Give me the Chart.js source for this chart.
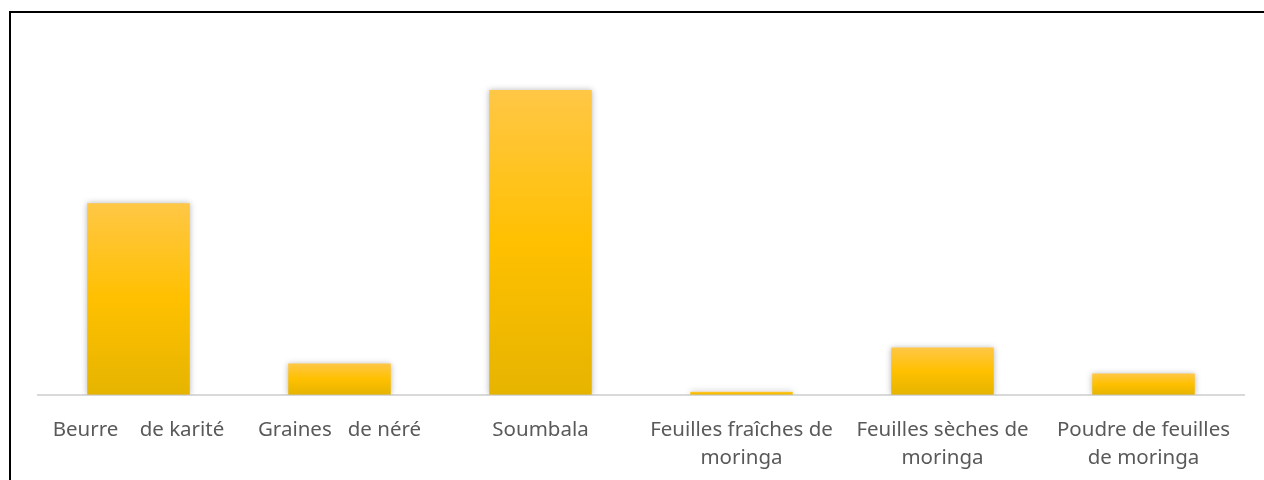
<!DOCTYPE html>
<html>
<head>
<meta charset="utf-8">
<script src="https://cdn.jsdelivr.net/npm/chart.js@4"></script>
<style>
  html, body { margin: 0; padding: 0; background: #fff; }
  #wrap { position: relative; width: 1264px; height: 480px; overflow: hidden; }
  #frame { position: absolute; left: 9px; top: 11px; width: 1300px; height: 520px; border-left: 2px solid #000; border-top: 2px solid #000; box-sizing: border-box; }
  canvas { position: absolute; left: 0; top: 0; }
</style>
</head>
<body>
<div id="wrap">
  <div id="frame"></div>
  <canvas id="c" width="1264" height="494"></canvas>
</div>
<script>
const categories = [
  "Beurre    de karité",
  "Graines   de néré",
  "Soumbala",
  ["Feuilles fraîches de", "moringa"],
  ["Feuilles sèches de", "moringa"],
  ["Poudre de feuilles", "de moringa"]
];
const values = [191, 31, 304, 3, 47, 21];
const yMax = 364;

const shadowPlugin = {
  id: 'barShadow',
  beforeDatasetsDraw(chart) {
    const ctx = chart.ctx;
    ctx.save();
    ctx.shadowColor = 'rgba(0,0,0,0.28)';
    ctx.shadowBlur = 6;
    ctx.shadowOffsetX = 0;
    ctx.shadowOffsetY = 0;
  },
  afterDatasetsDraw(chart) {
    chart.ctx.restore();
  }
};

function barGradient(context) {
  const chart = context.chart;
  const area = chart.chartArea;
  if (!area) return '#FFC000';
  const y = chart.scales.y;
  const v = context.raw;
  const top = y.getPixelForValue(v);
  const bottom = y.getPixelForValue(0);
  const g = chart.ctx.createLinearGradient(0, top, 0, bottom);
  g.addColorStop(0, '#FFC746');
  g.addColorStop(0.5, '#FFC000');
  g.addColorStop(1, '#E6B400');
  return g;
}

new Chart(document.getElementById('c'), {
  type: 'bar',
  data: {
    labels: categories,
    datasets: [{
      data: values,
      backgroundColor: barGradient,
      borderWidth: 0,
      categoryPercentage: 1,
      barPercentage: 0.51
    }]
  },
  options: {
    responsive: false,
    animation: false,
    layout: { padding: { left: 38, right: 20, top: 30, bottom: 0 } },
    plugins: { legend: { display: false }, tooltip: { enabled: false } },
    scales: {
      x: {
        grid: { display: false, drawTicks: false },
        border: { display: true, color: '#D9D9D9', width: 2 },
        ticks: {
          color: '#595959',
          font: { family: 'Noto Sans', size: 20.5, lineHeight: 1.35 },
          padding: 22,
          maxRotation: 0,
          autoSkip: false
        }
      },
      y: {
        display: false,
        min: 0,
        max: yMax
      }
    }
  },
  plugins: [shadowPlugin]
});
</script>
</body>
</html>
